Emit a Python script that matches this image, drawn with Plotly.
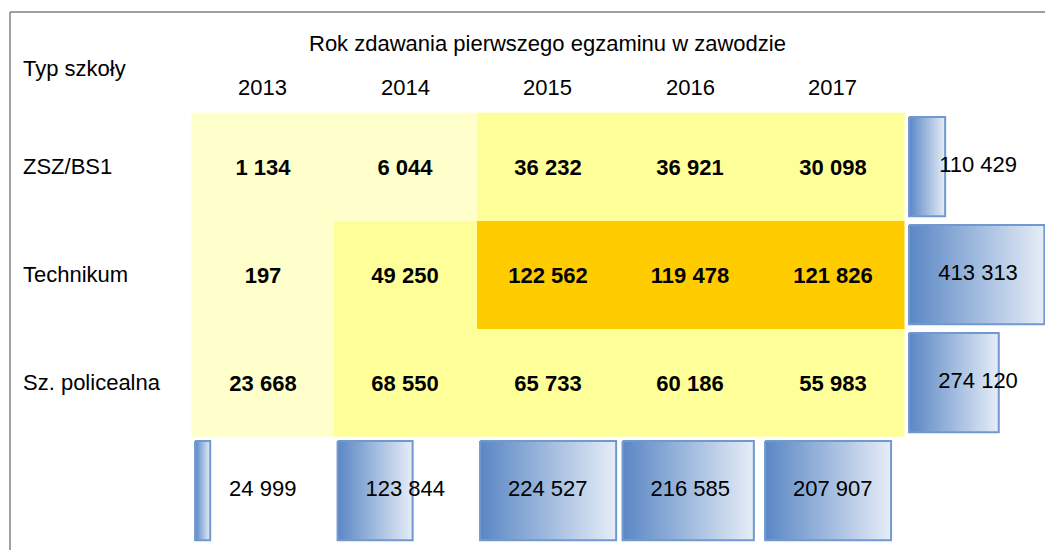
import plotly.graph_objects as go

years = ["2013", "2014", "2015", "2016", "2017"]
school_types = ["ZSZ/BS1", "Technikum", "Sz. policealna"]
zsz = [1134, 6044, 36232, 36921, 30098]
technikum = [197, 49250, 122562, 119478, 121826]
policealna = [23668, 68550, 65733, 60186, 55983]
row_totals = [110429, 413313, 274120]
col_totals = [24999, 123844, 224527, 216585, 207907]

title_text = "Rok zdawania pierwszego egzaminu w zawodzie"
corner_text = "Typ szkoły"

rows = [zsz, technikum, policealna]
FONT = "Arial, Liberation Sans, sans-serif"
FS = 22
cell_colors = ["#ffffcc", "#ffff99", "#ffcc00"]
bar_scale = [[0, "#5a87c5"], [1, "#e6edf7"]]
W, H = 1045, 550


def fmt(v):
    return f"{v:,}".replace(",", " ")


def level(v):
    # colour class of a cell
    if v < 25000:
        return 0
    if v < 100000:
        return 1
    return 2


fig = go.Figure()

# main table cells
fig.add_trace(go.Heatmap(
    x=list(range(len(years))), y=list(range(len(school_types))),
    z=[[level(v) for v in r] for r in rows],
    text=[[fmt(v) for v in r] for r in rows],
    texttemplate="%{text}",
    textfont=dict(family=FONT, size=FS, color="black", weight="bold"),
    colorscale=[[0, cell_colors[0]], [0.3333, cell_colors[0]], [0.3333, cell_colors[1]],
                [0.6667, cell_colors[1]], [0.6667, cell_colors[2]], [1, cell_colors[2]]],
    zmin=0, zmax=2, showscale=False, hoverinfo="skip"))


def add_bar(x0, y_c, w, h=0.92):
    xs = [x0, x0 + w, x0 + w, x0, x0]
    ys = [y_c - h / 2, y_c - h / 2, y_c + h / 2, y_c + h / 2, y_c - h / 2]
    fig.add_trace(go.Scatter(
        x=xs, y=ys, mode="lines", fill="toself",
        fillgradient=dict(type="horizontal", colorscale=bar_scale),
        line=dict(color="#7299cf", width=2), hoverinfo="skip", showlegend=False))


# totals per school type (right side)
n = len(years)
for i, v in enumerate(row_totals):
    add_bar(n - 0.5 + 0.035, i, 0.95 * v / max(row_totals))
# totals per year (bottom)
m = len(school_types)
for j, v in enumerate(col_totals):
    add_bar(j - 0.5 + 0.025, m, 0.955 * v / max(col_totals))

fig.add_trace(go.Scatter(
    x=[n + 0.02] * m + list(range(n)), y=list(range(m)) + [m] * n,
    mode="text", text=[fmt(v) for v in row_totals + col_totals],
    textfont=dict(family=FONT, size=FS, color="black"),
    hoverinfo="skip", showlegend=False))

# headers
for j, yr in enumerate(years):
    fig.add_annotation(x=j, y=-0.73, text=yr, showarrow=False,
                       font=dict(family=FONT, size=FS, color="black"))
fig.add_annotation(x=2, y=-1.14, text=title_text, showarrow=False,
                   font=dict(family=FONT, size=FS, color="black"))
fig.add_annotation(x=21 / W, xref="paper", xanchor="left", y=-0.91, text=corner_text,
                   showarrow=False, font=dict(family=FONT, size=FS, color="black"))
for i, name in enumerate(school_types):
    fig.add_annotation(x=21 / W, xref="paper", xanchor="left", y=i, text=name,
                       showarrow=False, font=dict(family=FONT, size=FS, color="black"))

# frame (left and top edges)
fx = 10 / W
fy = 1 - 12 / H
fig.add_shape(type="line", xref="paper", yref="paper", x0=fx, x1=fx,
              y0=0, y1=fy, line=dict(color="#808080", width=1.5))
fig.add_shape(type="line", xref="paper", yref="paper", x0=fx, x1=1,
              y0=fy, y1=fy, line=dict(color="#808080", width=1.5))

fig.update_xaxes(range=[-1.8439, 5.4895], visible=False, fixedrange=True)
fig.update_yaxes(range=[3.55, -1.5435], visible=False, fixedrange=True)
fig.update_layout(width=W, height=H, margin=dict(l=0, r=0, t=0, b=0),
                  paper_bgcolor="white", plot_bgcolor="white", showlegend=False)

# drop the default page margin so the figure fills the window
fig.write_html("out.html", config={"displayModeBar": False},
               post_script="document.body.style.margin='0px';")
